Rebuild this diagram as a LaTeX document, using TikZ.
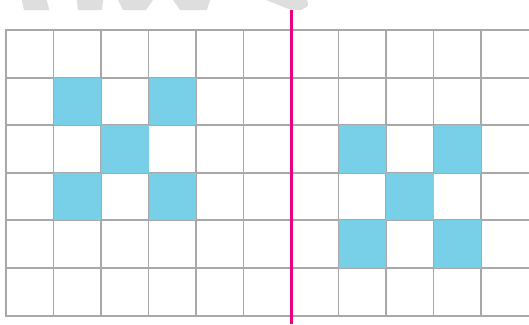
\documentclass[tikz,border=0pt]{standalone}
\usepackage{tikz}

\definecolor{gridgray}{RGB}{168,168,168}
\definecolor{cellblue}{RGB}{120,208,232}
\definecolor{mirrorpink}{RGB}{230,0,126}
\definecolor{wmgray}{RGB}{222,222,222}

\begin{document}
\begin{tikzpicture}[
    x=1pt, y=-1pt,
    gridline/.style={draw=gridgray, line width=1.9pt},
    cell/.style={fill=cellblue},
    mirror/.style={draw=mirrorpink, line width=2.6pt},
    wmark/.style={fill=wmgray}
  ]
  \useasboundingbox (0,0) rectangle (529,324);

  % Watermark pieces at the top edge
  \fill[wmark] (21.7,0) -- (46.7,0) -- (49.3,10) -- (24,10) -- cycle;
  \fill[wmark] (76.7,0) -- (103.3,0) -- (101.7,10) -- (78,10) -- cycle;
  \fill[wmark] (118,0) -- (153,0) -- (146,10) -- (123,10) -- cycle;
  \fill[wmark] (173,0) -- (210,0) -- (207,10) -- (180,10) -- cycle;
  \fill[wmark] (266,0) -- (307,0) .. controls (309,6) .. (301,10) -- (291,10) -- cycle;

  % Grid
  \foreach \i in {0,...,10}
    \draw[gridline] (6+47.5*\i,30) -- (6+47.5*\i,315.6);
  \foreach \j in {0,...,6}
    \draw[gridline] (5.1,30+47.6*\j) -- (530,30+47.6*\j);

  % Filled cells, left pattern and mirrored pattern
  \foreach \c/\r in {1/1, 3/1, 2/2, 1/3, 3/3, 7/2, 9/2, 8/3, 7/4, 9/4}
    \fill[cell] (6+47.5*\c,30+47.6*\r) rectangle ++(47.5,47.6);

  % Mirror line
  \coordinate (mtop) at (291.5,10);
  \coordinate (mbot) at (291.5,324);
  \draw[mirror] (mtop) -- (mbot);
\end{tikzpicture}
\end{document}
